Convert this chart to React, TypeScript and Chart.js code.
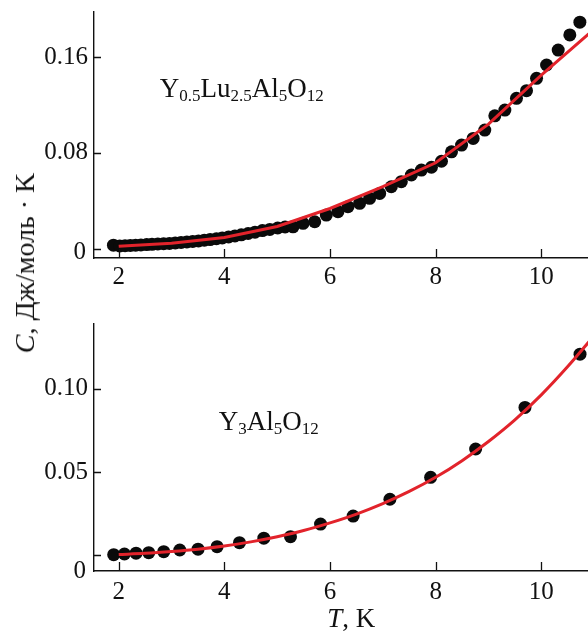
import { useEffect, useRef } from 'react';
import { Chart, registerables } from 'chart.js';

Chart.register(...registerables);

const FONT = '"Liberation Serif", "Times New Roman", serif';
const INK = '#111111';
const RED = '#e2232b';

// Y0.5Lu2.5Al5O12: measured heat capacity, T (K) and C (J/mol·K)
const T_LU = [
  1.9, 2.02, 2.12, 2.22, 2.32, 2.42, 2.53, 2.63, 2.74, 2.85, 2.96, 3.07, 3.18, 3.29, 3.4,
  3.51, 3.62, 3.73, 3.85, 3.96, 4.08, 4.2, 4.32, 4.45, 4.58, 4.72, 4.86, 5.01, 5.15, 5.3,
  5.49, 5.71, 5.93, 6.15, 6.34, 6.56, 6.75, 6.94, 7.16, 7.35, 7.54, 7.73, 7.92, 8.11, 8.3,
  8.49, 8.71, 8.93, 9.12, 9.31, 9.53, 9.72, 9.91, 10.1, 10.32, 10.54, 10.73,
];
const C_LU = [
  0.0028, 0.0022, 0.0024, 0.0026, 0.0028, 0.003, 0.0033, 0.0035, 0.0038, 0.004, 0.0043,
  0.0047, 0.0051, 0.0055, 0.006, 0.0064, 0.007, 0.0075, 0.0082, 0.0089, 0.0097, 0.0106,
  0.0115, 0.0126, 0.0137, 0.015, 0.016, 0.0172, 0.018, 0.0182, 0.0211, 0.0224, 0.028,
  0.0308, 0.035, 0.0378, 0.042, 0.0461, 0.0517, 0.0559, 0.0615, 0.0656, 0.068, 0.073,
  0.0809, 0.0865, 0.0921, 0.0991, 0.111, 0.1158, 0.1256, 0.132, 0.1423, 0.1535, 0.166,
  0.1786, 0.1893,
];
// Y0.5Lu2.5Al5O12: fitted curve
const T_LU_FIT = [2, 3, 4, 5, 6, 7, 8, 9, 10, 11];
const C_LU_FIT = [0.0019, 0.0045, 0.0093, 0.0185, 0.0335, 0.0517, 0.0717, 0.104, 0.145, 0.1835];

// Y3Al5O12: measured heat capacity
const T_YAG = [
  1.905, 2.108, 2.328, 2.568, 2.852, 3.156, 3.502, 3.862, 4.286, 4.747, 5.252, 5.821,
  6.438, 7.134, 7.905, 8.757, 9.691, 10.733,
];
const C_YAG = [
  0.0004, 0.0008, 0.0013, 0.0016, 0.0022, 0.0032, 0.0037, 0.0052, 0.0076, 0.0103, 0.0112,
  0.0188, 0.0236, 0.0337, 0.0469, 0.0639, 0.0889, 0.1209,
];
// Y3Al5O12: fitted curve
const T_YAG_FIT = [2, 2.5, 3, 3.5, 4, 4.5, 5, 5.5, 6, 6.5, 7, 7.5, 8, 8.5, 9, 9.5, 10, 10.5, 11];
const C_YAG_FIT = [
  0.0005, 0.0012, 0.0023, 0.0037, 0.0056, 0.0081, 0.0112, 0.0149, 0.0195, 0.0248, 0.0311,
  0.0384, 0.0469, 0.0569, 0.0684, 0.0814, 0.0964, 0.1134, 0.132,
];

// Axes
const T_RANGE = [1.532, 10.884];
const X_TICKS = [2, 4, 6, 8, 10];
const X_LABELS = ['2', '4', '6', '8', '10'];
const C_RANGE_LU = [-0.0079, 0.1978];
const Y_TICKS_LU = [0, 0.08, 0.16];
const Y_LABELS_LU = ['0', '0.08', '0.16'];
const C_RANGE_YAG = [-0.0094, 0.139];
const Y_TICKS_YAG = [0, 0.05, 0.1];
const Y_LABELS_YAG = ['0', '0.05', '0.10'];

type Run = [string, boolean];
const FORMULA_LU: Run[] = [
  ['Y', false], ['0.5', true], ['Lu', false], ['2.5', true], ['Al', false], ['5', true], ['O', false], ['12', true],
];
const FORMULA_YAG: Run[] = [
  ['Y', false], ['3', true], ['Al', false], ['5', true], ['O', false], ['12', true],
];

const WIDTH = 588;
const TICK_FONT = 25;

// Tick marks pointing into the plot area
const inwardTicks = {
  id: 'inwardTicks',
  afterDatasetsDraw(chart: any) {
    const { ctx, chartArea, scales } = chart;
    const { x, y } = scales;
    ctx.save();
    ctx.strokeStyle = INK;
    ctx.lineWidth = 1.3;
    ctx.beginPath();
    x.ticks.forEach((t: any) => {
      const px = Math.round(x.getPixelForValue(t.value)) + 0.5;
      ctx.moveTo(px, chartArea.bottom);
      ctx.lineTo(px, chartArea.bottom - 9);
    });
    y.ticks.forEach((t: any) => {
      const py = Math.round(y.getPixelForValue(t.value)) + 0.5;
      ctx.moveTo(chartArea.left, py);
      ctx.lineTo(chartArea.left + 7, py);
    });
    ctx.stroke();
    ctx.restore();
  },
};

// Chemical formula with subscripts, anchored at a data point (left baseline)
const formulaLabel = {
  id: 'formulaLabel',
  afterDraw(chart: any, _args: any, opts: any) {
    if (!opts || !opts.runs) return;
    const { ctx, scales } = chart;
    let px = scales.x.getPixelForValue(opts.at[0]);
    const base = scales.y.getPixelForValue(opts.at[1]);
    ctx.save();
    ctx.fillStyle = INK;
    ctx.textAlign = 'left';
    ctx.textBaseline = 'alphabetic';
    for (const [text, sub] of opts.runs as Run[]) {
      ctx.font = `${sub ? 17 : 27}px ${FONT}`;
      ctx.fillText(text, px, base + (sub ? 4 : 0));
      px += ctx.measureText(text).width;
    }
    ctx.restore();
  },
};

// The "0" label on the C axis sits a little below its tick
const zeroLabel = {
  id: 'zeroLabel',
  afterDraw(chart: any, _args: any, opts: any) {
    const { ctx, scales } = chart;
    const y = scales.y;
    const py = opts.toAxis ? y.bottom : y.getPixelForValue(0) + (opts.shift || 0);
    ctx.save();
    ctx.fillStyle = INK;
    ctx.font = `${TICK_FONT}px ${FONT}`;
    ctx.textAlign = 'right';
    ctx.textBaseline = 'middle';
    ctx.fillText('0', y.right - 8, py);
    ctx.restore();
  },
};

// "T, K" axis title with italic T
const tAxisTitle = {
  id: 'tAxisTitle',
  afterDraw(chart: any, _args: any, opts: any) {
    if (!opts || !opts.show) return;
    const { ctx, chartArea, scales } = chart;
    const cx = scales.x.getPixelForValue(opts.centerT);
    const base = chartArea.bottom + 56;
    ctx.save();
    ctx.fillStyle = INK;
    ctx.textBaseline = 'alphabetic';
    ctx.textAlign = 'left';
    const italic = `italic 27px ${FONT}`;
    const upright = `27px ${FONT}`;
    ctx.font = italic;
    const w1 = ctx.measureText('T').width;
    ctx.font = upright;
    const w2 = ctx.measureText(', K').width;
    let x0 = cx - (w1 + w2) / 2;
    ctx.font = italic;
    ctx.fillText('T', x0, base);
    x0 += w1;
    ctx.font = upright;
    ctx.fillText(', K', x0, base);
    ctx.restore();
  },
};

interface PanelSpec {
  height: number;
  areaTop: number;
  areaBottom: number;
  pts: { x: number; y: number }[];
  fit: { x: number; y: number }[];
  smoothFit: boolean;
  cRange: number[];
  yTicks: number[];
  yLabels: string[];
  labelPad: number;
  formula: Run[];
  formulaAt: number[];
  zero: { shift?: number; toAxis?: boolean };
  showTitle: boolean;
}

function pairs(xs: number[], ys: number[]) {
  return xs.map((x, i) => ({ x, y: ys[i] }));
}

function buildConfig(p: PanelSpec): any {
  return {
    type: 'scatter',
    data: {
      datasets: [
        {
          type: 'line',
          data: p.fit,
          borderColor: RED,
          borderWidth: 3,
          pointRadius: 0,
          fill: false,
          tension: 0,
          cubicInterpolationMode: p.smoothFit ? 'monotone' : 'default',
          order: 0,
        },
        {
          type: 'scatter',
          data: p.pts,
          backgroundColor: '#0a0a0a',
          borderWidth: 0,
          pointRadius: 6.5,
          pointHoverRadius: 6.5,
          order: 1,
        },
      ],
    },
    options: {
      animation: false,
      responsive: false,
      devicePixelRatio: 1,
      events: [],
      layout: { autoPadding: false, padding: { top: p.areaTop, left: 0, right: 0, bottom: 0 } },
      plugins: {
        legend: { display: false },
        tooltip: { enabled: false },
        formulaLabel: { runs: p.formula, at: p.formulaAt },
        zeroLabel: p.zero,
        tAxisTitle: { show: p.showTitle, centerT: 6.4 },
      },
      scales: {
        x: {
          type: 'linear',
          min: T_RANGE[0],
          max: T_RANGE[1],
          afterBuildTicks: (s: any) => {
            s.ticks = X_TICKS.map((v) => ({ value: v }));
          },
          afterFit: (s: any) => {
            s.height = p.height - p.areaBottom;
            s.paddingLeft = 0;
            s.paddingRight = 0;
          },
          ticks: {
            autoSkip: false,
            maxRotation: 0,
            padding: p.labelPad,
            color: INK,
            font: { family: FONT, size: TICK_FONT },
            callback: (v: number) => {
              const i = X_TICKS.indexOf(v);
              return i >= 0 ? X_LABELS[i] : '';
            },
          },
          grid: { display: false, drawTicks: false },
          border: { display: true, color: INK, width: 1.4 },
        },
        y: {
          type: 'linear',
          min: p.cRange[0],
          max: p.cRange[1],
          afterBuildTicks: (s: any) => {
            s.ticks = p.yTicks.map((v) => ({ value: v }));
          },
          afterFit: (s: any) => {
            s.width = 94;
            s.paddingTop = 0;
            s.paddingBottom = 0;
          },
          ticks: {
            autoSkip: false,
            padding: 6,
            color: INK,
            font: { family: FONT, size: TICK_FONT },
            callback: (v: number) => {
              const i = p.yTicks.indexOf(v);
              if (i < 0 || v === 0) return '';
              return p.yLabels[i];
            },
          },
          grid: { display: false, drawTicks: false },
          border: { display: true, color: INK, width: 1.4 },
        },
      },
    },
    plugins: [inwardTicks, formulaLabel, zeroLabel, tAxisTitle],
  };
}

const TOP_PANEL: PanelSpec = {
  height: 300,
  areaTop: 12,
  areaBottom: 258,
  pts: pairs(T_LU, C_LU),
  fit: pairs(T_LU_FIT, C_LU_FIT),
  smoothFit: false,
  cRange: C_RANGE_LU,
  yTicks: Y_TICKS_LU,
  yLabels: Y_LABELS_LU,
  labelPad: 4,
  formula: FORMULA_LU,
  formulaAt: [2.777, 0.1267],
  zero: { shift: 4 },
  showTitle: false,
};

const BOTTOM_PANEL: PanelSpec = {
  height: 337,
  areaTop: 24,
  areaBottom: 271,
  pts: pairs(T_YAG, C_YAG),
  fit: pairs(T_YAG_FIT, C_YAG_FIT),
  smoothFit: true,
  cRange: C_RANGE_YAG,
  yTicks: Y_TICKS_YAG,
  yLabels: Y_LABELS_YAG,
  labelPad: 6,
  formula: FORMULA_YAG,
  formulaAt: [3.894, 0.0753],
  zero: { toAxis: true },
  showTitle: true,
};

function Panel({ spec }: { spec: PanelSpec }) {
  const ref = useRef<HTMLCanvasElement>(null);
  useEffect(() => {
    if (!ref.current) return;
    const chart = new Chart(ref.current, buildConfig(spec));
    return () => chart.destroy();
  }, [spec]);
  return (
    <canvas
      ref={ref}
      width={WIDTH}
      height={spec.height}
      style={{ display: 'block', width: WIDTH, height: spec.height }}
    />
  );
}

export default function App() {
  return (
    <div
      style={{
        position: 'absolute',
        left: 0,
        top: 0,
        width: WIDTH,
        height: 637,
        background: '#ffffff',
        overflow: 'hidden',
      }}
    >
      <Panel spec={TOP_PANEL} />
      <Panel spec={BOTTOM_PANEL} />
      <div
        style={{
          position: 'absolute',
          left: 25,
          top: 263,
          transform: 'translate(-50%, -50%) rotate(-90deg)',
          whiteSpace: 'nowrap',
          fontFamily: FONT,
          fontSize: 28,
          color: INK,
          lineHeight: 1,
        }}
      >
        <i>C</i>, Дж/моль · K
      </div>
    </div>
  );
}
